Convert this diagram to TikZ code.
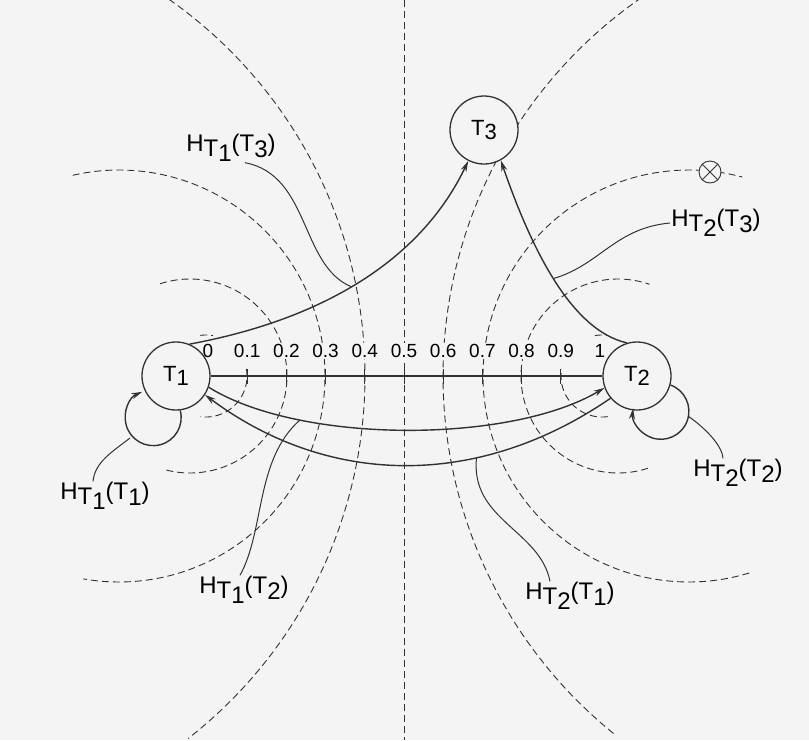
\documentclass[tikz,border=0pt]{standalone}
\usepackage{fontspec}
\setmainfont{Liberation Sans}
\usetikzlibrary{positioning,arrows.meta}
\definecolor{bgc}{RGB}{244,244,244}
\definecolor{ink}{RGB}{50,50,50}
\newcommand{\Tnum}[1]{T\raisebox{-0.22em}{#1}}
\newcommand{\Hval}[2]{H\raisebox{-0.18em}{\Tnum{#1}}(\Tnum{#2})}

\begin{document}
\begin{tikzpicture}[x=1pt, y=-1pt,
  term/.style={circle, draw=ink, fill=bgc, line width=1.3pt, minimum size=68pt,
               inner sep=0pt, font=\fontsize{22}{24}\selectfont},
  ticklab/.style={fill=bgc, inner sep=1pt, font=\fontsize{19}{20}\selectfont},
  hlab/.style={inner sep=1pt, font=\fontsize{24}{28}\selectfont},
  crossnode/.style={circle, draw=ink, fill=bgc, line width=0.9pt, minimum size=22pt, inner sep=0pt},
  conn/.style={draw=ink, line width=1.4pt},
  lead/.style={draw=ink, line width=1pt},
  eqline/.style={draw=ink, line width=0.9pt, dash pattern=on 7pt off 4pt},
  >={Stealth[length=11pt,width=6pt]}]
\path[use as bounding box, fill=bgc] (0,0) rectangle (809,740);
\draw[eqline] (404,0) -- (404,740);
\foreach \cx/\rr/\sa/\ea in {-95/460/-55/52, 119/206/-103/100, 190/97/-108/105,
                             206/41/-98/-80, 206/41/-10/98,
                             903/460/129/235, 689/206/73/285, 618/97/72/289,
                             602/41/260/278, 602/41/82/190}
  \draw[eqline] plot[domain=\sa:\ea, samples=60, smooth] ({\cx+\rr*cos(\x)}, {376+\rr*sin(\x)});

\foreach \lab [count=\i from 0] in {0,0.1,0.2,0.3,0.4,0.5,0.6,0.7,0.8,0.9,1}
  \node[ticklab] (k\i) at ({208+39.2*\i},351) {\lab};
\foreach \i in {1,...,9}
  \draw[ink, line width=1pt] ({208+39.2*\i},369) -- ({208+39.2*\i},384);

\node[term] (T1) at (176,376) {\Tnum{1}};
\node[term] (T2) at (637,376) {\Tnum{2}};
\node[term] (T3) at (484,130) {\Tnum{3}};
\node[crossnode] (X) at (710,172) {};
\draw[ink, line width=0.9pt] (X.45) -- (X.225) (X.135) -- (X.315);

\draw[conn] (T1) -- (T2);
\draw[conn,->] (T1.67) .. controls (320,320) and (420,262) .. coordinate[pos=0.47] (p13) (T3.243);
\draw[conn,->] (T2.107) .. controls (570,330) and (530,245) .. coordinate[pos=0.5] (p23) (T3.299);
\draw[conn,->] (T1.-19) .. controls (300,444) and (510,444) .. coordinate[pos=0.26] (p12) (T2.200);
\draw[conn,->] (T2.-140) .. controls (480,488) and (330,488) .. coordinate[pos=0.33] (p21) (T1.-33);
\draw[conn,->] (T1.-83) arc[start angle=-15, end angle=247, radius=28];
\draw[conn,->] (T2.-15) arc[start angle=-70, end angle=186, radius=28];
\coordinate (l11) at (130,438);
\coordinate (l22) at (688,416);

\node[hlab] (h13) at (231,148) {\Hval{1}{3}};
\node[hlab] (h23) at (716,223) {\Hval{2}{3}};
\node[hlab] (h11) at (105,496) {\Hval{1}{1}};
\node[hlab] (h12) at (244,590) {\Hval{1}{2}};
\node[hlab] (h21) at (570,596) {\Hval{2}{1}};
\node[hlab] (h22) at (738,473) {\Hval{2}{2}};
\draw[lead] (p13) .. controls (300,265) and (310,175) .. ([xshift=14pt]h13.south);
\draw[lead] (p23) .. controls (600,265) and (615,228) .. (h23.west);
\draw[lead] (l11) .. controls (112,452) and (95,462) .. ([xshift=-12pt]h11.north);
\draw[lead] (p12) .. controls (255,460) and (265,530) .. ([xshift=-4pt]h12.north);
\draw[lead] (p21) .. controls (470,520) and (540,530) .. ([xshift=-20pt]h21.north);
\draw[lead] (l22) .. controls (705,428) and (722,445) .. ([xshift=-15pt]h22.north);
\end{tikzpicture}
\end{document}
